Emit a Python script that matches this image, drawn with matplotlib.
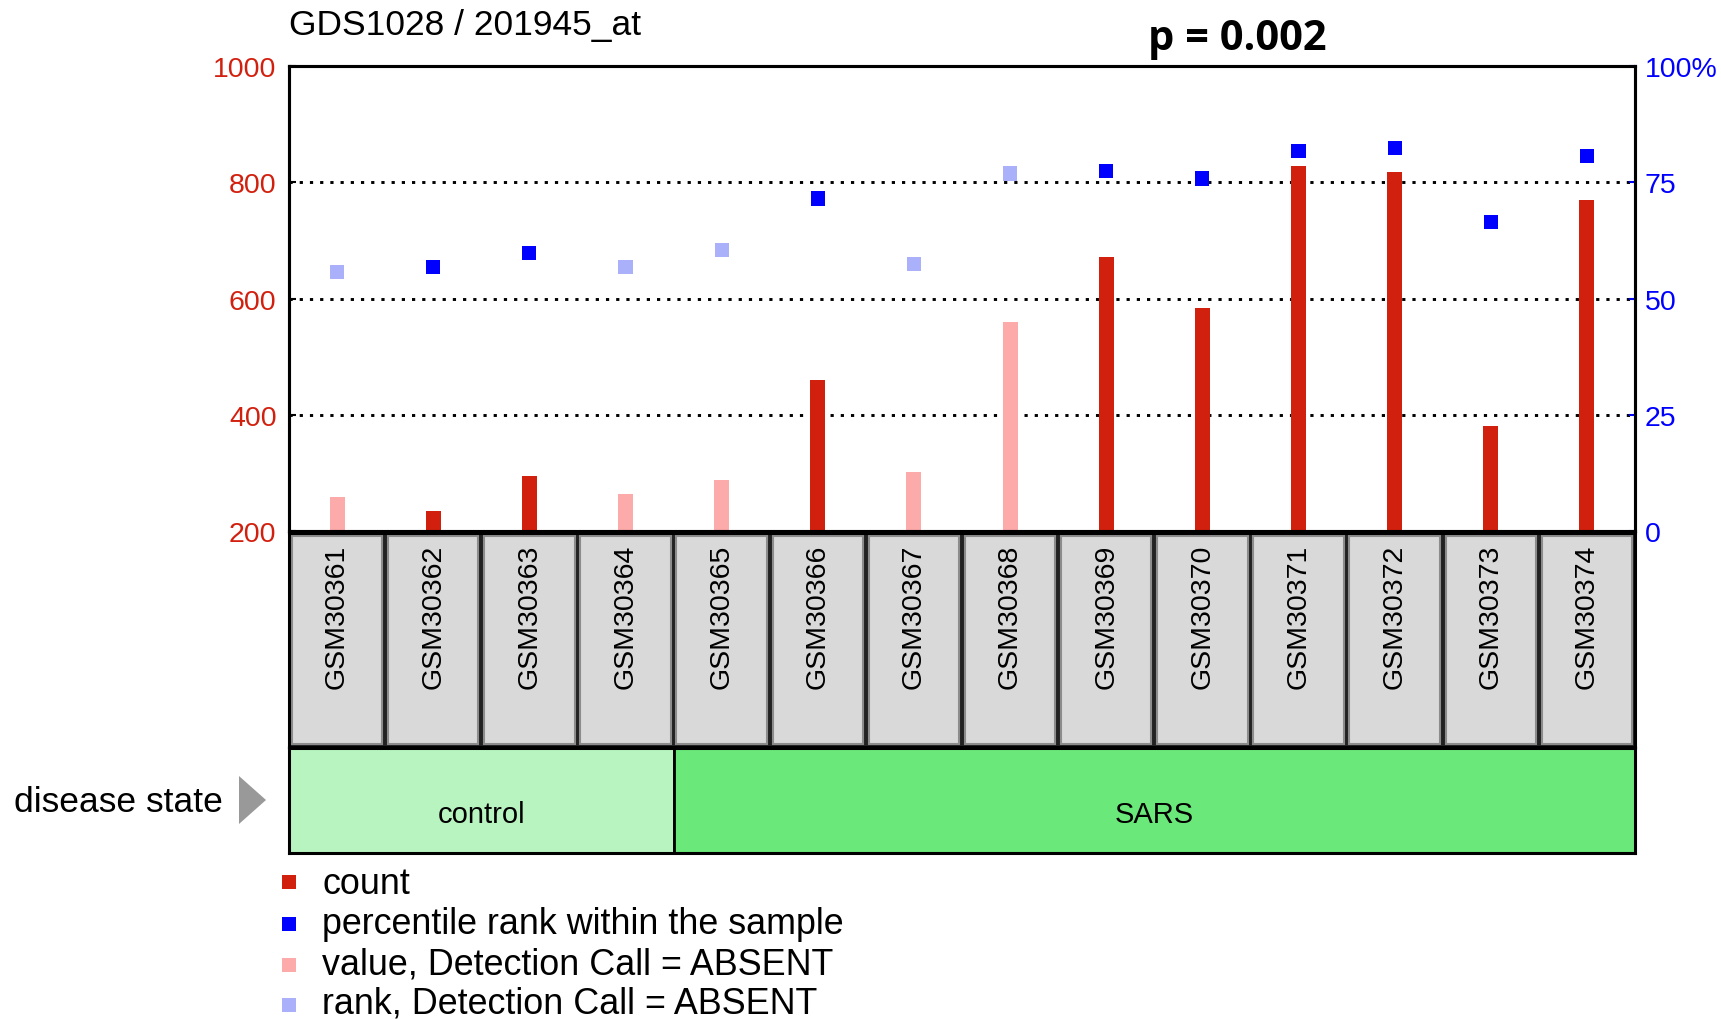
import numpy as np
import matplotlib
matplotlib.use("Agg")
import matplotlib.pyplot as plt
from matplotlib.patches import Rectangle, Polygon

plt.rcParams["font.family"] = ["Liberation Sans", "DejaVu Sans"]

# Data
samples = ["GSM30361", "GSM30362", "GSM30363", "GSM30364", "GSM30365",
           "GSM30366", "GSM30367", "GSM30368", "GSM30369", "GSM30370",
           "GSM30371", "GSM30372", "GSM30373", "GSM30374"]
count = [259, 235, 294, 264, 288, 459, 302, 560, 672, 584, 828, 818, 380, 770]
percentile = [55.7, 56.8, 59.8, 56.8, 60.5, 71.5, 57.5, 76.9, 77.5, 75.8,
              81.8, 82.4, 66.5, 80.6]
absent = [True, False, False, True, True, False, True, True, False, False,
          False, False, False, False]
groups = ["control", "SARS"]
group_sizes = [4, 10]
group_colors = ["#b8f4c0", "#6ae87a"]
left_ticks = [200, 400, 600, 800, 1000]
right_ticks = [0, 25, 50, 75, 100]
right_labels = ["0", "25", "50", "75", "100%"]
legend_labels = ["count", "percentile rank within the sample",
                 "value, Detection Call = ABSENT", "rank, Detection Call = ABSENT"]

RED, PINK, BLUE, LBLUE = "#d2200e", "#fcaaaa", "#0000ff", "#aab0fa"

W, H = 1721, 1020
fig = plt.figure(figsize=(W / 100, H / 100), dpi=100)

def fx(px):
    return px / W

def fy(py):
    return 1 - py / H

x = np.arange(len(samples))
L, R, T, B = 289, 1635, 67, 532

# Main axes
ax = fig.add_axes([fx(L), fy(B), fx(R - L), (B - T) / H])
ax.set_xlim(-0.5, len(samples) - 0.5)
ax.set_ylim(200, 1000)
ax.set_axisbelow(True)
bar_colors = [PINK if a else RED for a in absent]
ax.bar(x, count, width=0.155, color=bar_colors, zorder=2)
for lvl in left_ticks[1:-1]:
    ax.axhline(lvl, color="black", lw=2.1, ls=(0, (1.1, 2.4)), zorder=1)
ax.set_yticks(left_ticks)
ax.set_yticklabels([str(v) for v in left_ticks], color=RED, fontsize=20.5)
ax.set_xticks(x)
ax.tick_params(axis="x", direction="in", length=4.5, width=1.5, labelbottom=False)
ax.tick_params(axis="y", direction="in", length=5, width=1.5, pad=9)
for s in ax.spines.values():
    s.set_linewidth(2.2)

ax2 = ax.twinx()
ax2.set_ylim(0, 100)
pt_colors = [LBLUE if a else BLUE for a in absent]
ax2.scatter(x, percentile, marker="s", s=105, c=pt_colors, linewidths=0, zorder=3)
ax2.set_yticks(right_ticks)
ax2.set_yticklabels(right_labels, color=BLUE, fontsize=20.5)
ax2.tick_params(axis="y", direction="in", length=4, width=1.5, color=BLUE, pad=7)
for s in ax2.spines.values():
    s.set_linewidth(2.2)

# Sample label boxes
lab = fig.add_axes([fx(L), fy(748), fx(R - L), (748 - 534) / H])
lab.set_xlim(-0.5, len(samples) - 0.5)
lab.set_ylim(0, 1)
lab.set_facecolor("#222222")
lab.set_xticks([])
lab.set_yticks([])
for s in lab.spines.values():
    s.set_linewidth(2.2)
for i, name in enumerate(samples):
    lab.add_patch(Rectangle((i - 0.5 + 0.03, 0.012), 0.94, 0.975,
                            facecolor="#d9d9d9", edgecolor="#8c8c8c", lw=1.5))
    lab.text(i, 0.95, name, rotation=90, ha="center", va="top", fontsize=20.5)

# Disease state band
band = fig.add_axes([fx(L), fy(854), fx(R - L), (854 - 749) / H])
band.set_xlim(-0.5, len(samples) - 0.5)
band.set_ylim(0, 1)
band.set_xticks([])
band.set_yticks([])
start = -0.5
for g, n, c in zip(groups, group_sizes, group_colors):
    band.add_patch(Rectangle((start, 0), n, 1, facecolor=c, edgecolor="black", lw=2))
    band.text(start + n / 2, 0.37, g, ha="center", va="center", fontsize=21)
    start += n
for s in band.spines.values():
    s.set_linewidth(2.2)

fig.text(fx(14), fy(803), "disease state", ha="left", va="center", fontsize=25.5)
fig.add_artist(Polygon([(fx(239), fy(777)), (fx(239), fy(825)), (fx(266), fy(801))],
                       closed=True, facecolor="#999999", edgecolor="none",
                       transform=fig.transFigure))

# Titles
fig.text(fx(289), fy(26), "GDS1028 / 201945_at", ha="left", va="center", fontsize=25.5)
fig.text(fx(1237), fy(40), "p = 0.002", ha="center", va="center", fontsize=30,
         fontweight="bold", family=["Open Sans", "DejaVu Sans"])

# Legend
leg_colors = [RED, BLUE, PINK, LBLUE]
text_y = [885, 925, 965, 1004]
mark_y = [883, 925, 966, 1006]
for lbl, col, ty, my in zip(legend_labels, leg_colors, text_y, mark_y):
    fig.add_artist(Rectangle((fx(282), fy(my + 7)), fx(14), 14 / H,
                             facecolor=col, edgecolor="none", transform=fig.transFigure))
    fig.text(fx(322), fy(ty), lbl, ha="left", va="center", fontsize=25.8)

fig.savefig("out.png", dpi=100)
